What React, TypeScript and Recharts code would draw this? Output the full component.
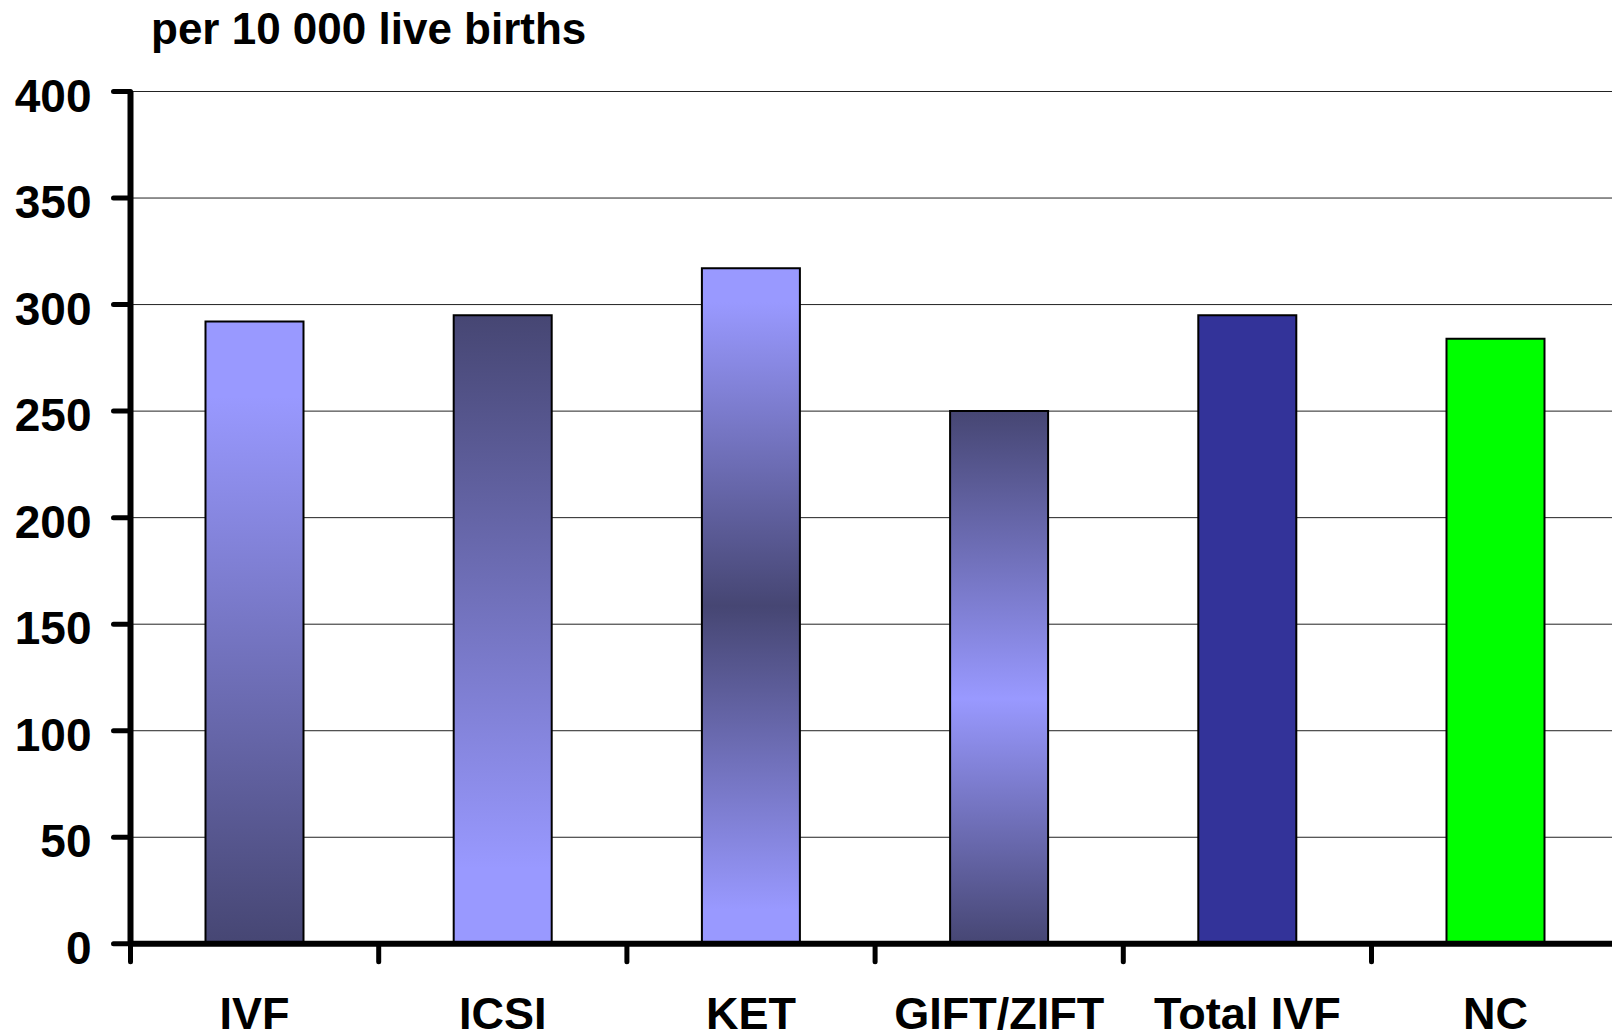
import { BarChart, Bar, Cell, XAxis, YAxis, CartesianGrid } from 'recharts'

const categories = ['IVF', 'ICSI', 'KET', 'GIFT/ZIFT', 'Total IVF', 'NC']
const rates = [292, 295, 317, 250, 295, 284]
const fills = ['url(#gIvf)', 'url(#gIcsi)', 'url(#gKet)', 'url(#gGift)', '#333399', '#00ff00']
const yTicks = [0, 50, 100, 150, 200, 250, 300, 350, 400]

const data = categories.map((name, i) => ({ name, value: rates[i] }))

const FONT = '"Liberation Sans", Arial, sans-serif'
const CHART_W = 1650
const CHART_H = 1034
const Y_W = 130.5
const RIGHT = 30.3
const HALF_STEP = (CHART_W - Y_W - RIGHT) / categories.length / 2

const LIGHT = '#9999ff'
const DARK = '#464673'

const YTick = ({ x, y, payload }: any) => (
  <g>
    <line x1={x - 17} y1={y} x2={x} y2={y} stroke="#000" strokeWidth={5} strokeLinecap="round" />
    <text x={x - 39} y={y + 20} textAnchor="end" fontFamily={FONT} fontWeight="bold" fontSize={46} fill="#000">
      {payload.value}
    </text>
  </g>
)

const XTick = ({ x, y, payload }: any) => (
  <g>
    <line x1={x - HALF_STEP} y1={y} x2={x - HALF_STEP} y2={y + 18} stroke="#000" strokeWidth={5} strokeLinecap="round" />
    <text x={x} y={y + 85} textAnchor="middle" fontFamily={FONT} fontWeight="bold" fontSize={45} fill="#000">
      {payload.value}
    </text>
  </g>
)

export default function App() {
  return (
    <div style={{ position: 'fixed', left: 0, top: 0, width: 1612, height: 1034, overflow: 'hidden', background: '#fff' }}>
      <div
        style={{
          position: 'absolute',
          left: 151,
          top: 7,
          fontFamily: FONT,
          fontWeight: 'bold',
          fontSize: 44,
          lineHeight: '44px',
          color: '#000',
          whiteSpace: 'nowrap',
        }}
      >
        per 10 000 live births
      </div>
      <BarChart width={CHART_W} height={CHART_H} data={data} margin={{ top: 91.5, right: RIGHT, bottom: 0, left: 0 }}>
        <defs>
          <linearGradient id="gIvf" x1="0" y1="0" x2="0" y2="1">
            <stop offset="0%" stopColor={LIGHT} />
            <stop offset="12%" stopColor={LIGHT} />
            <stop offset="100%" stopColor={DARK} />
          </linearGradient>
          <linearGradient id="gIcsi" x1="0" y1="0" x2="0" y2="1">
            <stop offset="0%" stopColor={DARK} />
            <stop offset="88%" stopColor={LIGHT} />
            <stop offset="100%" stopColor={LIGHT} />
          </linearGradient>
          <linearGradient id="gKet" x1="0" y1="0" x2="0" y2="1">
            <stop offset="0%" stopColor={LIGHT} />
            <stop offset="5%" stopColor={LIGHT} />
            <stop offset="50%" stopColor={DARK} />
            <stop offset="95%" stopColor={LIGHT} />
            <stop offset="100%" stopColor={LIGHT} />
          </linearGradient>
          <linearGradient id="gGift" x1="0" y1="0" x2="0" y2="1">
            <stop offset="0%" stopColor={DARK} />
            <stop offset="54%" stopColor={LIGHT} />
            <stop offset="100%" stopColor={DARK} />
          </linearGradient>
        </defs>
        <CartesianGrid vertical={false} stroke="#222" strokeWidth={1} />
        <XAxis
          dataKey="name"
          height={CHART_H - 943.8}
          axisLine={{ stroke: '#000', strokeWidth: 6 }}
          tickLine={false}
          tickSize={0}
          tickMargin={0}
          interval={0}
          tick={<XTick />}
        />
        <YAxis
          width={Y_W}
          domain={[0, 400]}
          ticks={yTicks}
          axisLine={{ stroke: '#000', strokeWidth: 6 }}
          tickLine={false}
          tickSize={0}
          tickMargin={0}
          tick={<YTick />}
        />
        <Bar dataKey="value" barSize={98} stroke="#000" strokeWidth={2} isAnimationActive={false}>
          {data.map((d, i) => (
            <Cell key={d.name} fill={fills[i]} />
          ))}
        </Bar>
      </BarChart>
    </div>
  )
}
